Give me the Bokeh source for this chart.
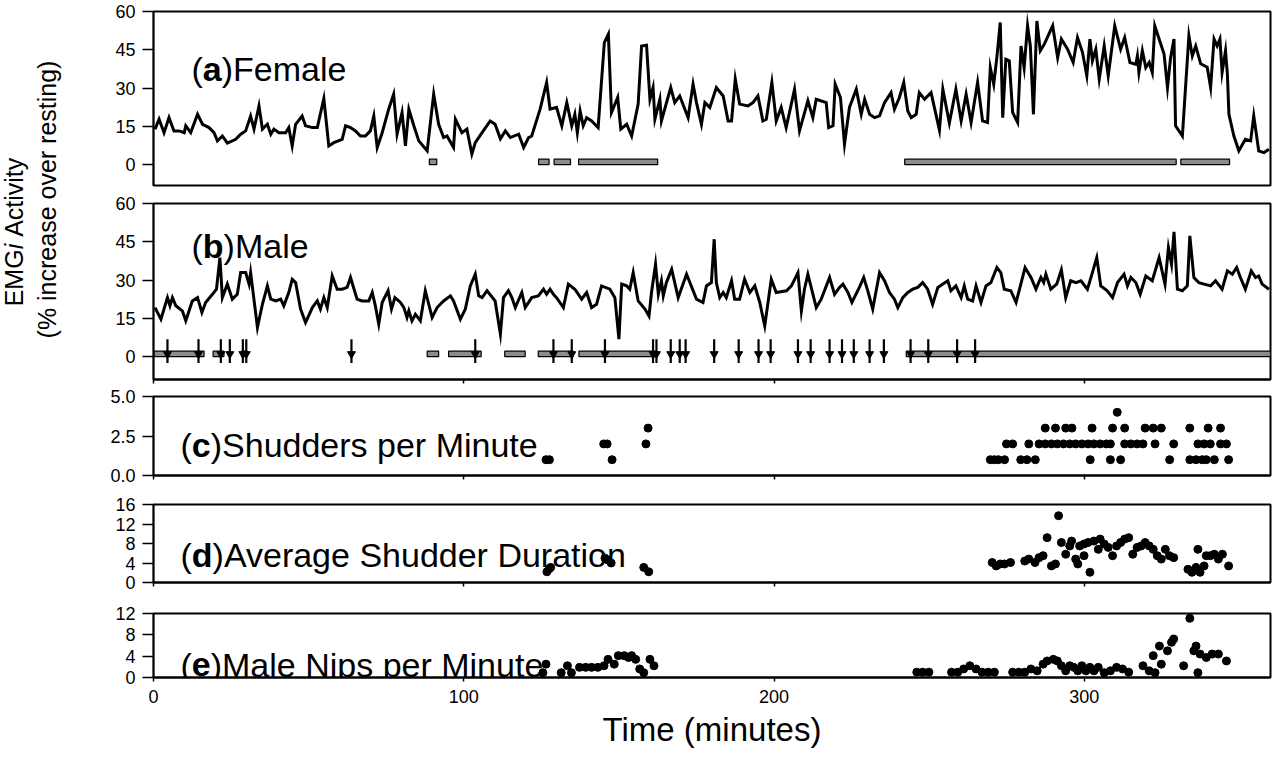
import numpy as np
from bokeh.plotting import figure
from bokeh.layouts import column, row
from bokeh.models import Range1d, FixedTicker, Label, PrintfTickFormatter
from bokeh.embed import file_html
from bokeh.resources import INLINE

FONT = "Liberation Sans"

# ---------------- data ----------------
time_ticks = [0, 100, 200, 300]
emg_ticks = [0, 15, 30, 45, 60]
shud_ticks = [0, 2.5, 5]
dur_ticks = [0, 4, 8, 12, 16]
nip_ticks = [0, 4, 8, 12]

female_t = [0.5, 1.8, 3.4, 5.0, 6.6, 8.3, 9.9, 10.4, 12.0, 12.6, 14.2, 15.8, 17.9, 19.5, 20.6, 22.2, 23.8, 26.5, 28.1, 29.7,
            31.3, 32.4, 34.0, 35.1, 36.7, 37.8, 38.8, 40.4, 42.6, 43.6, 44.7, 45.8, 47.9, 49.0, 51.2, 52.8, 54.9, 56.5, 58.1, 60.8,
            61.9, 63.5, 65.1, 66.7, 68.3, 69.9, 71.0, 72.1, 73.7, 75.8, 77.4, 78.5, 80.1, 81.2, 82.3, 83.9, 85.5, 88.2, 90.3, 91.9,
            93.5, 94.6, 96.7, 97.3, 99.4, 101.0, 102.6, 103.7, 105.9, 108.5, 110.1, 111.8, 113.4, 115.0, 117.7, 119.3, 120.9, 121.9, 124.6, 126.7,
            127.8, 129.9, 131.6, 133.2, 134.8, 135.8, 136.6, 137.5, 138.5, 139.6, 141.2, 143.3, 145.3, 146.6, 147.6, 149.6, 150.6, 152.5, 154.1, 156.2,
            157.3, 158.9, 160.0, 161.0, 161.6, 163.2, 163.7, 166.7, 168.0, 169.6, 172.3, 173.9, 175.0, 176.6, 177.7, 179.3, 181.4, 183.6, 185.2, 186.3,
            187.5, 188.9, 191.6, 193.2, 194.8, 196.4, 197.5, 199.3, 200.7, 202.3, 203.9, 206.6, 208.2, 210.9, 212.5, 213.6, 216.8, 217.6, 219.0, 219.7,
            221.4, 222.7, 224.3, 226.5, 228.1, 229.2, 230.8, 232.4, 234.0, 235.6, 237.7, 238.8, 240.4, 241.8, 243.1, 244.2, 245.8, 246.8, 248.5, 250.6,
            253.3, 254.4, 256.5, 258.6, 260.3, 261.9, 263.5, 265.6, 267.2, 268.8, 269.7, 270.8, 271.8, 272.9, 273.7, 274.7, 275.8, 276.9, 278.5, 279.6,
            280.6, 281.7, 282.6, 283.6, 284.7, 285.8, 287.1, 289.8, 291.4, 292.6, 294.6, 296.4, 297.8, 299.4, 300.8, 301.8, 302.6, 303.7, 304.8, 306.4,
            307.7, 309.8, 311.7, 313.0, 314.7, 316.6, 317.1, 317.6, 318.7, 319.8, 320.9, 321.9, 322.7, 324.1, 325.7, 326.8, 327.8, 328.9, 329.4, 331.6,
            333.7, 334.8, 335.9, 337.5, 339.6, 340.7, 341.8, 342.8, 343.7, 344.4, 345.5, 346.1, 346.6, 348.2, 349.8, 351.9, 353.6, 354.6, 356.2, 357.9,
            359.5]
female_v = [13.9, 17.8, 12.5, 18.4, 13.2, 13.2, 12.5, 15.2, 12.5, 14.5, 19.7, 15.8, 14.5, 12.5, 9.3, 11.2, 8.4, 9.9, 11.9, 13.2,
            19.0, 13.9, 23.0, 13.9, 15.8, 11.9, 13.9, 12.5, 12.5, 14.5, 7.3, 15.8, 19.0, 15.2, 14.5, 14.5, 25.9, 7.3, 8.6, 9.9,
            15.2, 14.5, 13.2, 11.2, 11.2, 13.2, 19.0, 6.7, 12.5, 21.7, 27.6, 11.9, 20.4, 7.3, 21.7, 15.2, 9.3, 5.4, 27.6, 15.8,
            10.6, 11.2, 6.7, 17.8, 12.5, 13.9, 4.1, 8.6, 12.5, 17.1, 15.8, 10.1, 13.2, 10.6, 11.9, 6.7, 10.6, 11.2, 21.7, 32.2,
            21.7, 22.4, 15.2, 24.3, 15.2, 19.7, 12.5, 21.0, 15.2, 18.4, 17.1, 14.5, 47.8, 51.1, 20.4, 26.3, 13.9, 15.8, 11.2, 23.7,
            46.5, 46.8, 25.6, 30.2, 17.8, 25.6, 17.1, 30.2, 24.3, 26.9, 18.4, 31.5, 24.3, 15.8, 24.3, 22.4, 30.2, 26.9, 17.1, 17.1,
            33.5, 23.7, 23.0, 24.3, 26.9, 17.1, 17.8, 32.2, 17.1, 22.4, 14.5, 29.5, 13.2, 25.0, 18.4, 25.6, 24.3, 14.5, 15.2, 31.5,
            26.3, 8.0, 22.4, 29.5, 19.7, 25.6, 19.7, 18.4, 19.1, 24.3, 28.2, 21.7, 26.3, 32.2, 21.0, 18.4, 19.7, 28.2, 25.6, 28.2,
            13.5, 29.5, 16.3, 29.5, 17.1, 27.6, 16.5, 32.2, 17.1, 16.5, 38.0, 31.5, 41.9, 55.7, 18.4, 41.3, 40.7, 20.4, 16.5, 46.5,
            38.0, 54.4, 46.5, 19.7, 56.3, 44.6, 47.2, 54.4, 41.9, 49.2, 45.2, 40.0, 49.8, 44.0, 34.8, 49.2, 40.7, 45.2, 33.5, 46.5,
            34.8, 54.4, 45.2, 49.8, 40.0, 39.3, 42.6, 36.1, 44.6, 38.0, 40.0, 36.1, 54.4, 49.2, 43.3, 30.2, 41.9, 49.2, 15.2, 11.2,
            50.5, 42.6, 46.5, 39.5, 38.2, 30.2, 49.2, 46.5, 49.2, 36.1, 44.6, 35.5, 19.7, 11.2, 5.4, 9.9, 9.3, 19.1, 5.4, 4.7,
            6.0]

male_t = [0.5, 2.4, 4.5, 5.3, 6.1, 7.2, 9.3, 10.4, 12.5, 14.2, 15.6, 16.8, 19.0, 20.3, 21.4, 22.2, 23.8, 25.4, 27.0, 28.1,
          29.7, 30.8, 31.3, 33.5, 35.1, 36.7, 37.8, 39.4, 41.0, 42.0, 43.6, 44.7, 45.8, 47.4, 49.0, 51.2, 52.8, 53.8, 54.9, 56.0,
          57.6, 59.2, 60.8, 62.4, 63.5, 65.6, 67.2, 69.4, 70.5, 71.5, 72.6, 73.7, 75.6, 76.7, 77.8, 79.6, 80.7, 81.7, 82.3, 83.3,
          84.4, 86.0, 87.6, 89.8, 91.4, 93.5, 95.7, 96.7, 98.9, 100.5, 102.1, 103.7, 104.8, 105.9, 107.5, 110.1, 111.8, 112.8, 114.4, 115.5,
          116.6, 118.7, 119.8, 121.9, 124.0, 125.7, 126.7, 127.8, 128.9, 129.9, 132.1, 133.7, 135.8, 138.0, 139.6, 141.2, 142.8, 144.4, 147.1, 148.7,
          150.0, 150.9, 152.5, 153.5, 154.6, 156.2, 158.4, 159.7, 160.5, 161.8, 162.7, 163.7, 164.3, 165.3, 167.0, 169.1, 171.8, 175.0, 177.1, 178.2,
          179.8, 180.7, 181.4, 182.5, 183.6, 184.6, 186.3, 187.3, 188.9, 190.5, 192.2, 193.8, 195.4, 197.0, 199.1, 200.7, 204.0, 205.6, 207.7, 208.8,
          209.8, 210.9, 213.6, 215.2, 217.9, 219.5, 221.1, 222.2, 223.8, 225.1, 227.5, 228.9, 230.2, 231.8, 234.0, 235.6, 237.2, 238.8, 239.9, 241.5,
          243.1, 244.7, 246.3, 247.9, 249.5, 251.1, 252.8, 254.4, 256.0, 257.0, 258.6, 260.3, 261.3, 262.4, 264.0, 265.1, 266.7, 268.3, 269.9, 271.8,
          273.1, 274.2, 276.3, 278.0, 280.9, 282.8, 284.4, 286.0, 286.9, 287.6, 289.2, 291.1, 292.6, 294.0, 295.6, 297.3, 298.9, 301.0, 302.6, 304.0,
          305.3, 307.4, 309.1, 310.7, 312.8, 313.9, 315.0, 316.6, 318.0, 319.8, 321.9, 324.1, 326.0, 327.1, 328.1, 328.9, 330.0, 331.6, 333.2, 334.0,
          335.3, 336.9, 338.6, 340.7, 342.3, 344.4, 346.1, 347.7, 349.1, 350.3, 351.9, 353.8, 355.2, 356.2, 357.3, 359.5]
male_v = [19.2, 14.6, 23.1, 19.9, 23.1, 19.9, 17.9, 14.0, 21.8, 23.1, 17.3, 21.2, 24.4, 26.4, 38.8, 23.1, 28.4, 22.5, 24.4, 32.9,
          32.9, 28.4, 32.9, 11.4, 20.5, 27.7, 22.5, 21.8, 22.5, 19.9, 25.1, 30.3, 29.0, 18.6, 13.3, 19.2, 21.8, 18.6, 23.1, 19.2,
          31.6, 26.4, 26.4, 27.1, 31.0, 22.5, 21.8, 21.8, 25.1, 19.9, 12.7, 21.2, 25.8, 18.6, 23.1, 21.2, 19.2, 15.3, 17.9, 14.0,
          16.6, 14.0, 25.8, 15.3, 19.2, 21.8, 23.8, 21.8, 14.6, 18.6, 27.7, 32.3, 23.8, 23.1, 25.8, 21.8, 8.8, 23.1, 25.8, 23.1,
          19.2, 25.1, 19.2, 23.1, 23.8, 26.4, 24.4, 26.4, 24.4, 23.1, 19.2, 28.4, 26.4, 22.5, 25.1, 19.2, 20.5, 27.7, 26.4, 23.1,
          6.8, 28.4, 27.7, 26.4, 32.9, 21.8, 18.6, 15.9, 25.1, 36.2, 24.4, 29.7, 23.8, 29.0, 34.2, 23.1, 32.3, 22.5, 21.2, 27.7,
          29.0, 46.0, 29.0, 23.1, 25.1, 23.1, 29.7, 22.5, 22.5, 30.3, 25.1, 27.7, 21.2, 12.0, 30.3, 25.1, 25.8, 27.7, 32.9, 17.9,
          26.4, 32.3, 19.2, 22.5, 31.0, 24.4, 27.1, 28.4, 25.1, 21.2, 27.1, 31.0, 25.8, 18.6, 32.9, 29.7, 25.1, 22.5, 19.2, 23.1,
          25.1, 26.4, 27.1, 29.0, 26.4, 20.5, 27.1, 28.4, 29.7, 25.8, 27.7, 23.1, 27.7, 22.5, 21.8, 27.7, 21.2, 27.7, 29.0, 34.9,
          32.9, 26.4, 25.8, 21.2, 34.9, 31.0, 26.4, 31.0, 29.0, 32.3, 26.4, 28.4, 34.0, 23.1, 29.7, 29.0, 29.7, 26.4, 32.9, 38.8,
          27.7, 25.8, 23.1, 29.0, 32.3, 27.7, 31.0, 29.0, 24.4, 31.6, 29.7, 38.8, 28.4, 42.7, 36.2, 48.9, 26.4, 25.8, 27.7, 47.3,
          31.0, 29.0, 28.4, 27.7, 29.7, 26.4, 33.6, 32.3, 34.9, 31.0, 26.4, 33.6, 31.0, 31.6, 28.4, 26.4]

# shudder periods (start, end in minutes)
female_bar_start = [88.9, 124.1, 129.1, 137.0, 242.1, 331.1]
female_bar_end = [91.3, 127.5, 134.4, 162.5, 329.6, 346.8]
male_bar_start = [0.2, 19.2, 28.4, 88.2, 95.1, 113.2, 124.0, 137.1, 242.6]
male_bar_end = [16.3, 22.7, 30.2, 91.9, 105.6, 119.8, 135.3, 162.1, 360.0]
# male nip events (arrows)
male_arrow_t = [4.5, 14.5, 21.7, 24.6, 28.8, 29.9, 63.8, 103.7, 128.9, 134.8, 145.5, 161.0, 162.1, 166.7, 169.6, 171.5,
                180.7, 188.6, 195.0, 198.9, 207.7, 211.8, 217.9, 221.9, 225.7, 230.8, 235.4, 244.0, 249.7, 259.0, 264.8]

shud_t = [126.5, 127.6, 145.1, 146.2, 147.8, 158.7, 159.4,
          269.7, 271.0, 272.3, 274.3, 279.5, 281.5, 284.2, 301.9, 308.4, 311.7, 327.5, 334.0, 336.0, 338.0, 339.3, 341.9, 346.5,
          274.9, 276.9, 282.1, 285.4, 287.4, 289.4, 291.3, 293.3, 295.3, 297.2, 299.2, 301.2, 303.1, 305.1, 307.1, 308.4,
          313.0, 315.0, 317.0, 318.9, 322.8, 328.8, 336.6, 338.6, 340.6, 343.9, 345.8,
          287.4, 290.7, 294.0, 296.0, 302.5, 309.1, 313.0, 319.6, 322.2, 324.8, 334.0, 339.9, 343.9,
          310.6]
shud_n = [1, 1, 2, 2, 1, 2, 3,
          1, 1, 1, 1, 1, 1, 1, 1, 1, 1, 1, 1, 1, 1, 1, 1, 1,
          2, 2, 2, 2, 2, 2, 2, 2, 2, 2, 2, 2, 2, 2, 2, 2,
          2, 2, 2, 2, 2, 2, 2, 2, 2, 2, 2,
          3, 3, 3, 3, 3, 3, 3, 3, 3, 3, 3, 3, 3,
          4]

dur_t = [126.8, 127.5, 128.0, 145.5, 146.5, 147.5, 158.0, 159.6,
         270.3, 271.6, 272.9, 274.3, 276.2, 280.8, 282.1, 284.1, 285.4, 286.7, 288.0, 289.4, 290.7, 291.7, 292.6, 294.0,
         295.3, 295.9, 297.2, 297.9, 298.5, 299.9, 299.9, 301.2, 301.8, 303.1, 304.5, 305.1, 306.4, 307.7, 309.1, 310.4,
         311.7, 313.0, 314.3, 315.6, 317.0, 318.3, 319.6, 320.9, 322.2, 323.5, 324.8, 326.1, 327.4, 328.8, 333.4, 334.7,
         336.0, 336.6, 337.3, 338.6, 339.3, 340.6, 341.9, 343.2, 344.5, 346.5]
dur_s = [2.2, 2.8, 3.1, 5.0, 4.6, 4.0, 3.1, 2.2,
         4.1, 3.4, 3.8, 3.8, 4.1, 4.4, 4.8, 4.1, 5.1, 5.5, 9.2, 3.4, 3.8, 13.7, 8.2, 5.8,
         7.5, 8.5, 4.8, 3.8, 7.5, 7.9, 5.5, 8.2, 2.1, 8.5, 6.8, 8.9, 7.9, 7.2, 5.5, 7.5,
         8.2, 8.9, 9.2, 5.8, 7.2, 7.5, 8.2, 7.5, 6.8, 5.5, 4.8, 6.8, 5.5, 5.1, 2.7, 2.1,
         3.1, 6.8, 2.1, 3.4, 5.5, 5.5, 5.8, 4.8, 5.8, 3.4]

nips_t = [125.5, 126.5, 131.4, 133.4, 134.7, 137.3, 139.3, 141.2, 143.2, 145.2, 146.5, 148.5, 149.8, 151.7, 153.1,
          154.1, 155.4, 156.7, 158.0, 160.0, 161.3,
          246.0, 247.9, 249.9, 257.2, 259.2, 261.1, 263.1, 265.1, 267.0, 269.0, 271.0,
          276.9, 278.9, 280.8, 282.8, 284.8, 286.7, 288.0, 290.0, 291.3, 292.6, 294.0, 295.3, 296.6, 297.9, 299.2, 300.5,
          301.8, 303.1, 304.5, 306.4, 308.4, 310.4, 312.3, 314.3,
          318.9, 320.9, 322.2, 322.8, 324.2, 324.8, 326.8, 328.1, 328.8, 332.0, 334.0, 335.3, 336.0, 336.6, 337.3, 339.3,
          341.2, 343.2, 345.8]
nips_n = [0.9, 2.5, 0.9, 2.2, 0.9, 1.9, 1.9, 1.9, 1.9, 2.2, 3.4, 2.5, 4.1, 4.1, 3.75,
          4.1, 3.4, 1.6, 0.9, 3.4, 2.2,
          1.0, 1.0, 1.0, 1.0, 1.0, 1.6, 2.2, 1.6, 1.0, 1.0, 1.0,
          1.0, 1.0, 1.0, 1.6, 1.25, 2.5, 3.1, 3.4, 3.1, 2.2, 1.25, 2.2, 1.9, 1.25, 2.2, 1.25,
          1.9, 1.25, 1.9, 0.9, 1.25, 1.9, 1.6, 1.0,
          2.2, 1.25, 4.1, 0.9, 5.9, 2.5, 5.0, 6.6, 7.2, 2.2, 11.1, 5.0, 5.9, 0.9, 4.4, 3.75,
          4.4, 4.4, 3.1]

# ---------------- layout helpers ----------------
FW = 1117          # frame width (px)
LEFT = 153         # left border for full-width panels
LAB_W = 75         # width of the shared EMG label strip
TXT = "#000000"
PANEL_FS = 34


def base_fig(ymin, ymax, yticks, frame_h, b_top, b_bottom, b_left, show_x=True):
    p = figure(frame_width=FW, frame_height=frame_h,
               x_range=Range1d(0, 360), y_range=Range1d(ymin, ymax),
               output_backend="svg", toolbar_location=None,
               x_axis_location="below" if show_x else None,
               min_border_top=b_top, min_border_bottom=b_bottom,
               min_border_left=b_left, min_border_right=2)
    p.xgrid.visible = False
    p.ygrid.visible = False
    p.outline_line_color = "black"
    p.outline_line_width = 2
    p.outline_line_alpha = 1.0
    p.background_fill_color = "white"
    p.border_fill_color = "white"
    ya = p.yaxis[0]
    ya.ticker = FixedTicker(ticks=yticks)
    ya.major_tick_out = 11
    ya.major_tick_in = 0
    ya.minor_tick_out = 0
    ya.minor_tick_in = 0
    ya.major_tick_line_width = 1.5
    ya.major_tick_line_color = "black"
    ya.axis_line_width = 1.5
    ya.axis_line_color = "black"
    ya.major_label_text_font = FONT
    ya.major_label_text_font_size = "18px"
    ya.major_label_text_color = TXT
    ya.major_label_standoff = 7
    if show_x:
        xa = p.xaxis[0]
        xa.ticker = FixedTicker(ticks=time_ticks)
        xa.major_tick_out = 4
        xa.major_tick_in = 0
        xa.minor_tick_out = 0
        xa.minor_tick_in = 0
        xa.major_tick_line_width = 1.5
        xa.axis_line_width = 2
        xa.axis_line_color = "black"
        xa.major_label_text_font = FONT
        xa.major_label_text_color = TXT
    return p


def hide_xlabels(p):
    xa = p.xaxis[0]
    xa.major_label_overrides = {t: "" for t in time_ticks}
    xa.major_label_text_font_size = "0px"
    xa.major_label_standoff = 0


def panel_label(p, x, y, letter, rest, size=PANEL_FS):
    w_paren = 0.333 * size
    w_letter = {"a": 0.556, "b": 0.611, "c": 0.556, "d": 0.611, "e": 0.556}[letter] * size
    for txt, dx, style in [("(", 0, "normal"), (letter, w_paren, "bold"),
                           (")" + rest, w_paren + w_letter, "normal")]:
        p.add_layout(Label(x=x + dx, y=y, x_units="screen", y_units="screen", text=txt,
                           text_font=FONT, text_font_size=f"{size}px", text_font_style=style,
                           text_color=TXT, text_baseline="alphabetic", text_align="left"))


def side_label(p, x, y, txt, size=25):
    p.add_layout(Label(x=x, y=y, x_units="screen", y_units="screen", text=txt, angle=np.pi / 2,
                       text_font=FONT, text_font_size=f"{size}px", text_color=TXT,
                       text_baseline="middle", text_align="center"))


def draw_bars(p, starts, ends):
    p.quad(left=starts, right=ends, bottom=0, top=2.1, fill_color="#8c8c8c",
           line_color="black", line_width=1.2)


# ---------------- panel (a) Female ----------------
pa = base_fig(-8.2, 60, emg_ticks, 174, 11, 9, LEFT - LAB_W, show_x=False)
draw_bars(pa, female_bar_start, female_bar_end)
pa.line(female_t, female_v, line_color="black", line_width=3, line_join="miter")
panel_label(pa, 38, 117, "a", "Female")

# ---------------- panel (b) Male ----------------
pb = base_fig(-9.0, 60, emg_ticks, 176, 9, 8, LEFT - LAB_W)
hide_xlabels(pb)
draw_bars(pb, male_bar_start, male_bar_end)
pb.segment(x0=male_arrow_t, y0=6.8, x1=male_arrow_t, y1=-2.5, line_color="black", line_width=2.2)
pb.scatter(male_arrow_t, 1.0, marker="inverted_triangle", size=8, fill_color="black", line_color="black")
pb.line(male_t, male_v, line_color="black", line_width=3, line_join="miter")
panel_label(pb, 38, 134, "b", "Male")

# ---------------- EMG label strip ----------------
LAB_H = 194 + 193
lab = figure(width=LAB_W, height=LAB_H, output_backend="svg", toolbar_location=None,
             x_axis_location=None, y_axis_location=None, min_border=0,
             x_range=Range1d(0, 1), y_range=Range1d(0, 1))
lab.outline_line_color = None
lab.grid.visible = False
s = 25
line1_center = 237   # page y of the centre of the first title line
line2_center = 207
y0 = (LAB_H + 8) - (line1_center + 6.145 * s / 2)
for txt, dy, style in [("EMG", 0, "normal"), ("i", 2.278 * s, "italic"), ("Activity", 2.778 * s, "normal")]:
    lab.add_layout(Label(x=13, y=y0 + dy, x_units="screen", y_units="screen", text=txt, angle=np.pi / 2,
                         text_font=FONT, text_font_size=f"{s}px", text_font_style=style, text_color=TXT,
                         text_baseline="middle", text_align="left"))
lab.add_layout(Label(x=46, y=(LAB_H + 8) - line2_center, x_units="screen", y_units="screen",
                     text="(% increase over resting)", angle=np.pi / 2,
                     text_font=FONT, text_font_size=f"{s}px", text_color=TXT,
                     text_baseline="middle", text_align="center"))

# ---------------- panel (c) Shudders per minute ----------------
pc = base_fig(0, 5, shud_ticks, 79, 9, 14, LEFT)
pc.yaxis[0].formatter = PrintfTickFormatter(format="%.1f")
hide_xlabels(pc)
pc.scatter(shud_t, shud_n, size=8, fill_color="black", line_color="black")
panel_label(pc, 27, 31, "c", "Shudders per Minute")
side_label(pc, 58 - 161, 79 / 2, "Num.")

# ---------------- panel (d) Average shudder duration ----------------
pd_ = base_fig(0, 16, dur_ticks, 78, 15, 15, LEFT)
hide_xlabels(pd_)
pd_.scatter(dur_t, dur_s, size=8, fill_color="black", line_color="black")
panel_label(pd_, 27, 28, "d", "Average Shudder Duration")
side_label(pd_, 58 - 161, 78 / 2, "Sec.")

# ---------------- panel (e) Male nips per minute ----------------
pe = base_fig(0, 12, nip_ticks, 64, 16, 0, LEFT)
xa = pe.xaxis[0]
xa.major_label_text_font_size = "18px"
xa.major_label_standoff = 8
xa.axis_label = "Time (minutes)"
xa.axis_label_text_font = FONT
xa.axis_label_text_font_size = "33px"
xa.axis_label_text_font_style = "normal"
xa.axis_label_text_color = TXT
xa.axis_label_standoff = 5
pe.scatter(nips_t, nips_n, size=8, fill_color="black", line_color="black")
panel_label(pe, 27, 13, "e", "Male Nips per Minute")
side_label(pe, 58 - 161, 64 / 2, "Num.")

layout = column(row(lab, column(pa, pb)), pc, pd_, pe)
open("out.html", "w").write(file_html(layout, INLINE))
